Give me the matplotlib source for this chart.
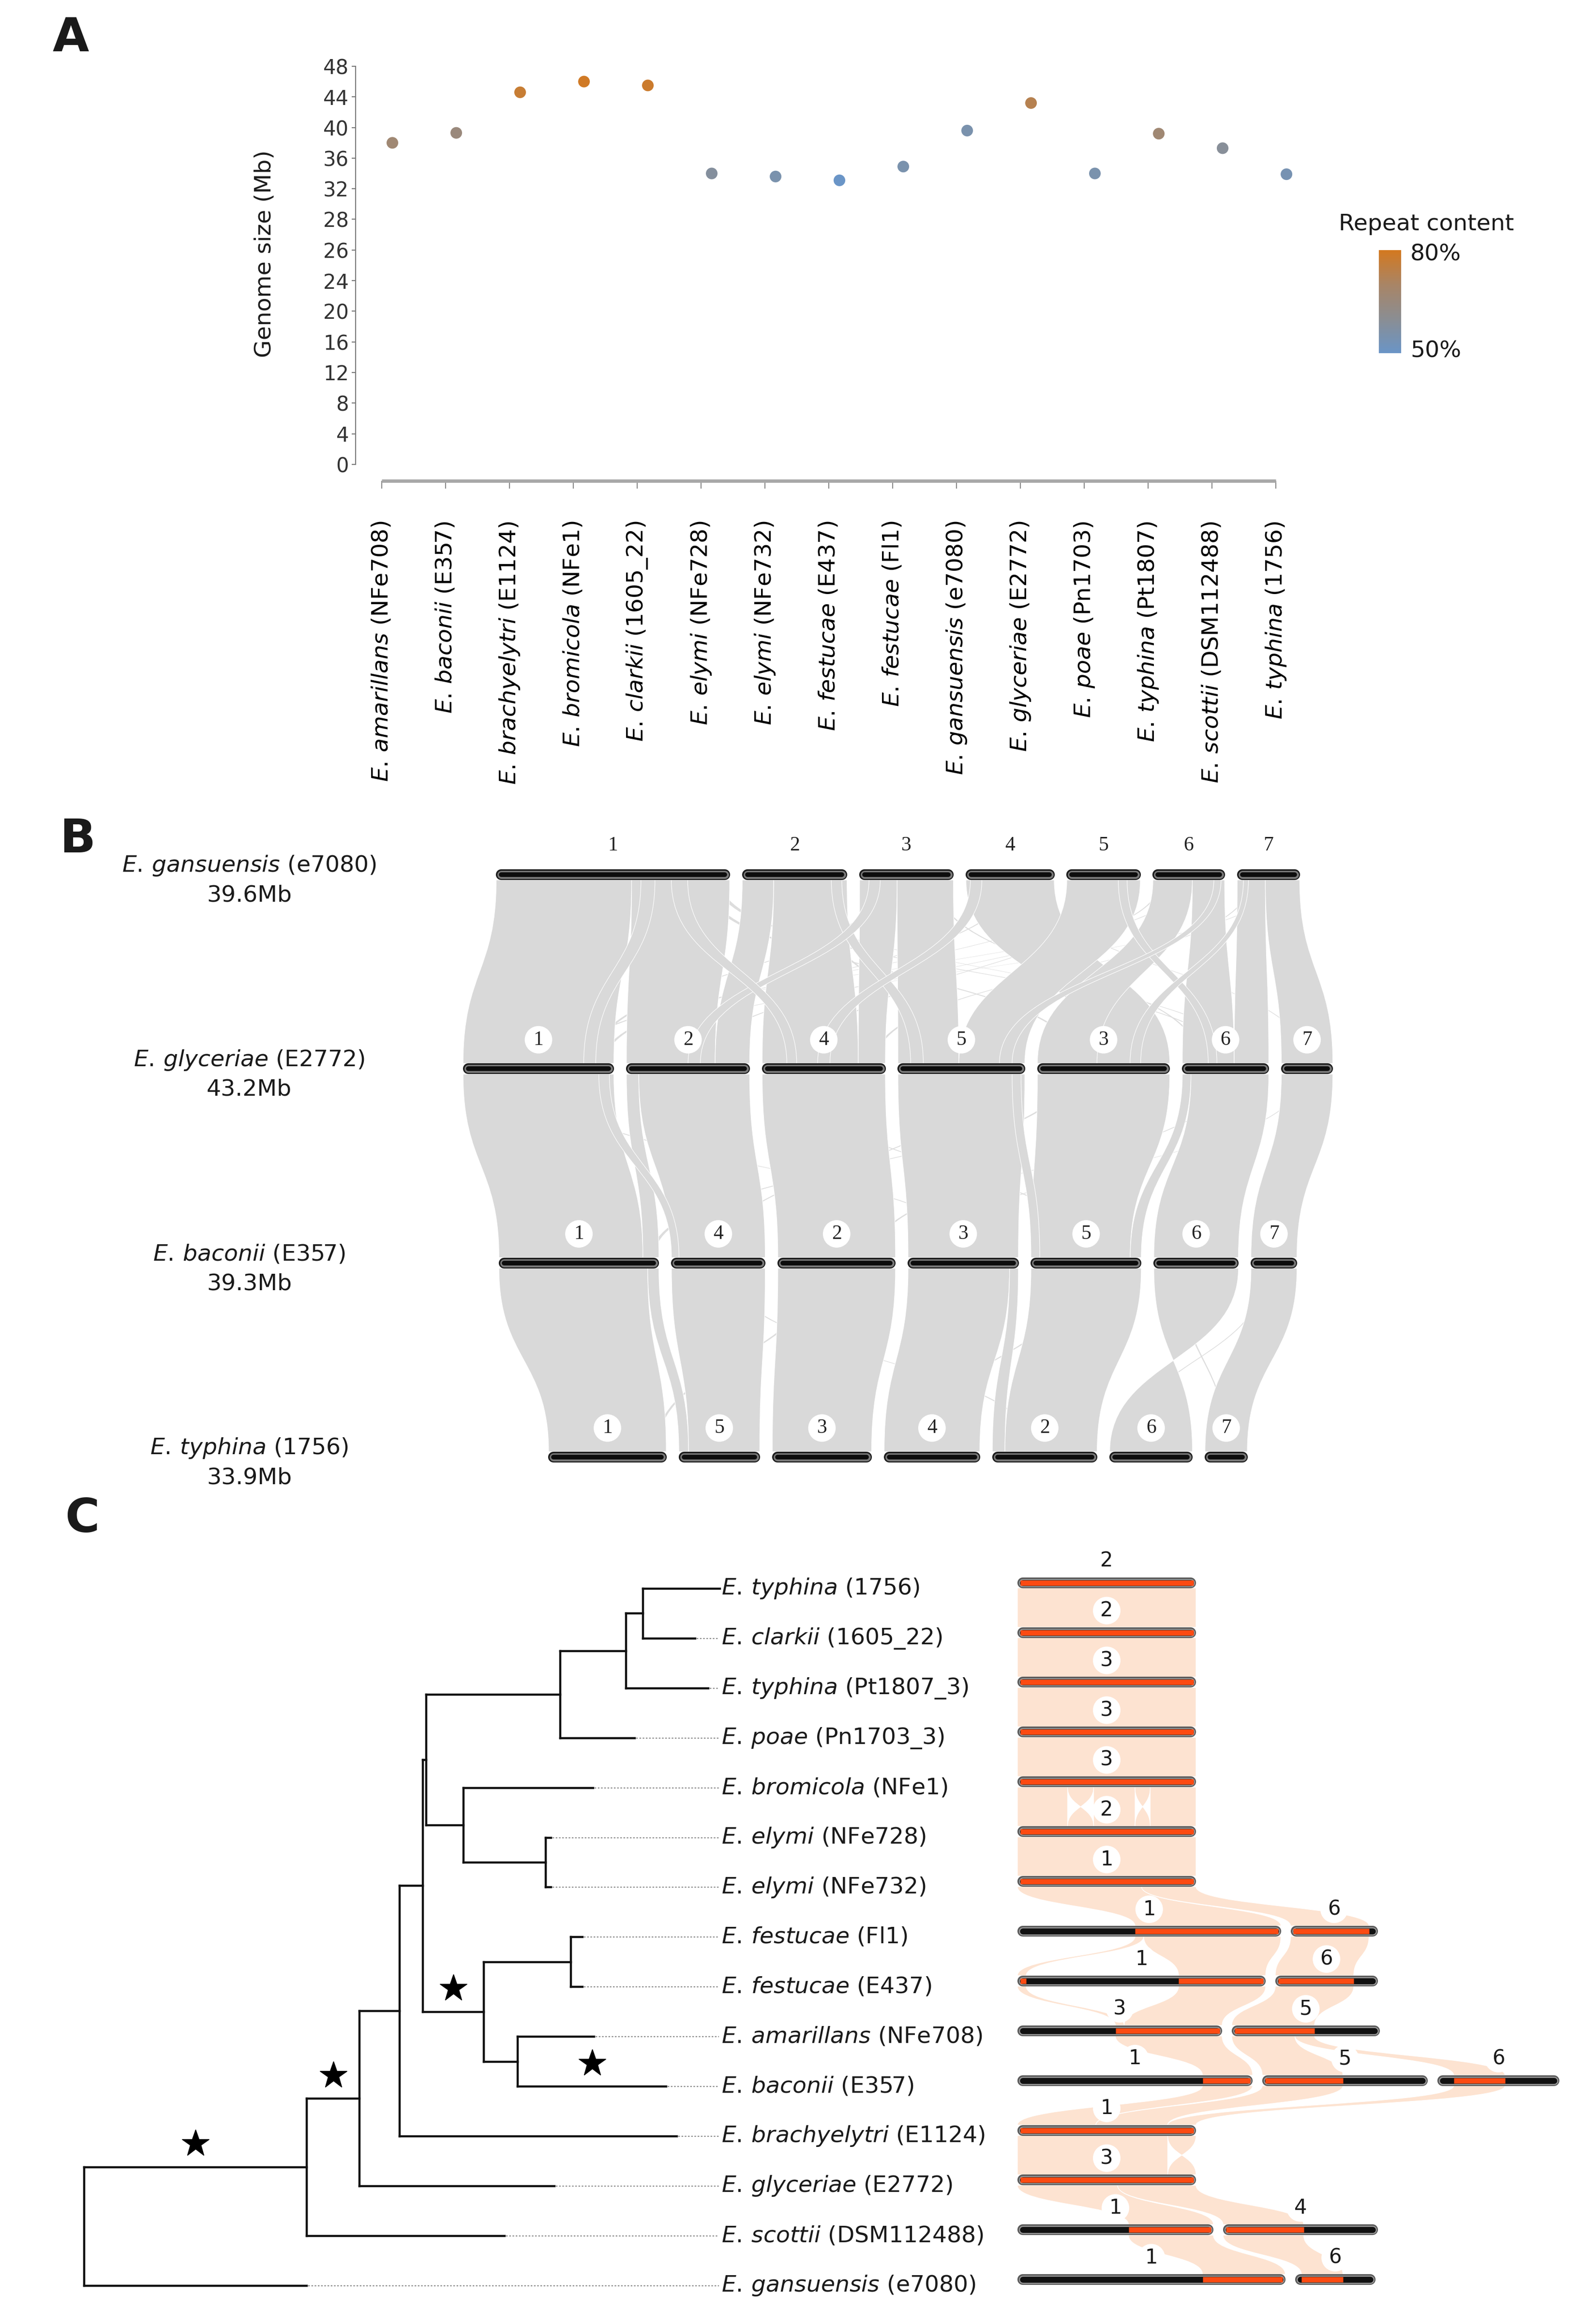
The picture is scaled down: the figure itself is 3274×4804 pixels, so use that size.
import numpy as np
import matplotlib.pyplot as plt
from matplotlib.path import Path
from matplotlib.patches import PathPatch
from matplotlib.colors import LinearSegmentedColormap
from matplotlib.transforms import blended_transform_factory

plt.rcParams['font.family'] = ['DejaVu Sans']
plt.rcParams['mathtext.fontset'] = 'custom'
plt.rcParams['mathtext.rm'] = 'DejaVu Sans'
plt.rcParams['mathtext.it'] = 'DejaVu Sans:italic'
plt.rcParams['text.color'] = '#1a1a1a'

# ---------------- panel A data ----------------
a_species = ['E. amarillans', 'E. baconii', 'E. brachyelytri', 'E. bromicola', 'E. clarkii',
             'E. elymi', 'E. elymi', 'E. festucae', 'E. festucae', 'E. gansuensis',
             'E. glyceriae', 'E. poae', 'E. typhina', 'E. scottii', 'E. typhina']
a_strains = ['NFe708', 'E357', 'E1124', 'NFe1', '1605_22', 'NFe728', 'NFe732', 'E437', 'Fl1',
             'e7080', 'E2772', 'Pn1703', 'Pt1807', 'DSM112488', '1756']
genome_size = [38.0, 39.3, 44.6, 46.0, 45.5, 34.0, 33.6, 33.1, 34.9, 39.6, 43.2, 34.0, 39.2, 37.3, 33.9]
repeat_content = [67, 65, 77, 79, 78, 58, 55, 50, 55, 55, 73, 55, 67, 59, 54]
ytick_labels = ['48', '44', '40', '36', '32', '28', '26', '24', '20', '16', '12', '8', '4', '0']

# ---------------- panel B data ----------------
b_species = ['E. gansuensis', 'E. glyceriae', 'E. baconii', 'E. typhina']
b_strains = ['e7080', 'E2772', 'E357', '1756']
b_genome = [39.6, 43.2, 39.3, 33.9]
b_chrom_names = [['1', '2', '3', '4', '5', '6', '7'],
                 ['1', '2', '4', '5', '3', '6', '7'],
                 ['1', '4', '2', '3', '5', '6', '7'],
                 ['1', '5', '3', '4', '2', '6', '7']]
b_chrom_len = [[12.7, 5.7, 5.1, 4.8, 4.0, 3.9, 3.4],
               [8.2, 6.7, 6.7, 6.9, 7.2, 4.7, 2.8],
               [8.7, 5.1, 6.4, 6.0, 6.0, 4.6, 2.5],
               [6.4, 4.4, 5.4, 5.2, 5.7, 4.5, 2.3]]
# synteny blocks (chrom above, from, to, chrom below, from, to) as fractions of chromosome length
b_links = [
    [('1', 0.00, 0.58, '1', 0.00, 1.00), ('1', 0.58, 1.00, '2', 0.00, 0.72),
     ('2', 0.00, 0.30, '2', 0.72, 1.00), ('2', 0.30, 1.00, '4', 0.00, 0.78),
     ('3', 0.00, 0.40, '4', 0.78, 1.00), ('3', 0.40, 1.00, '5', 0.00, 0.48),
     ('4', 0.00, 1.00, '3', 0.45, 1.00), ('5', 0.00, 1.00, '5', 0.48, 1.00),
     ('6', 0.00, 0.55, '3', 0.00, 0.45), ('6', 0.55, 1.00, '6', 0.00, 0.60),
     ('7', 0.00, 0.45, '6', 0.60, 1.00), ('7', 0.45, 1.00, '7', 0.00, 1.00),
     ('2', 0.85, 0.95, '5', 0.10, 0.20), ('3', 0.10, 0.22, '2', 0.50, 0.60),
     ('4', 0.05, 0.18, '4', 0.45, 0.55), ('5', 0.70, 0.82, '6', 0.30, 0.40),
     ('6', 0.85, 0.95, '5', 0.80, 0.90), ('1', 0.75, 0.82, '4', 0.20, 0.28),
     ('1', 0.62, 0.68, '1', 0.80, 0.88), ('7', 0.10, 0.18, '3', 0.70, 0.78)],
    [('1', 0.00, 1.00, '1', 0.00, 0.90), ('2', 0.00, 0.10, '1', 0.90, 1.00),
     ('2', 0.10, 1.00, '4', 0.00, 1.00), ('4', 0.00, 1.00, '2', 0.00, 1.00),
     ('5', 0.00, 1.00, '3', 0.00, 1.00), ('3', 0.00, 1.00, '5', 0.00, 0.90),
     ('6', 0.00, 0.10, '5', 0.90, 1.00), ('6', 0.10, 1.00, '6', 0.00, 1.00),
     ('7', 0.00, 1.00, '7', 0.00, 1.00),
     ('1', 0.90, 0.97, '4', 0.00, 0.08), ('5', 0.90, 0.97, '5', 0.00, 0.08)],
    [('1', 0.00, 0.93, '1', 0.00, 1.00), ('1', 0.93, 1.00, '5', 0.00, 0.12),
     ('4', 0.00, 1.00, '5', 0.12, 1.00), ('2', 0.00, 1.00, '3', 0.00, 1.00),
     ('3', 0.00, 0.92, '4', 0.00, 1.00), ('3', 0.92, 1.00, '2', 0.00, 0.12),
     ('5', 0.00, 1.00, '2', 0.12, 1.00), ('6', 0.00, 1.00, '6', 1.00, 0.00),
     ('7', 0.00, 1.00, '7', 0.00, 1.00)],
]
b_thin_links = [
    [('1', 0.88, 0.90, '3', 0.30, 0.32), ('1', 0.94, 0.96, '6', 0.50, 0.52),
     ('2', 0.60, 0.62, '5', 0.20, 0.22), ('3', 0.20, 0.22, '1', 0.85, 0.87),
     ('4', 0.50, 0.52, '2', 0.30, 0.32), ('5', 0.30, 0.32, '1', 0.92, 0.94),
     ('5', 0.70, 0.72, '4', 0.40, 0.42), ('6', 0.10, 0.12, '2', 0.60, 0.62),
     ('7', 0.20, 0.22, '4', 0.90, 0.92), ('4', 0.85, 0.87, '7', 0.50, 0.52),
     ('3', 0.80, 0.82, '6', 0.20, 0.22), ('2', 0.20, 0.22, '6', 0.70, 0.72),
     ('6', 0.40, 0.42, '1', 0.70, 0.72), ('7', 0.60, 0.62, '2', 0.10, 0.12)],
    [('1', 0.50, 0.52, '3', 0.60, 0.62), ('4', 0.30, 0.32, '5', 0.50, 0.52),
     ('3', 0.20, 0.22, '1', 0.95, 0.97), ('5', 0.60, 0.62, '4', 0.50, 0.52),
     ('6', 0.50, 0.52, '2', 0.80, 0.82), ('7', 0.40, 0.42, '3', 0.30, 0.32)],
    [('2', 0.30, 0.32, '1', 0.90, 0.92), ('5', 0.40, 0.42, '4', 0.30, 0.32),
     ('6', 0.30, 0.32, '7', 0.50, 0.52), ('7', 0.30, 0.32, '6', 0.20, 0.22),
     ('4', 0.60, 0.62, '2', 0.40, 0.42)],
]

# ---------------- panel C data ----------------
c_species = ['E. typhina', 'E. clarkii', 'E. typhina', 'E. poae', 'E. bromicola', 'E. elymi',
             'E. elymi', 'E. festucae', 'E. festucae', 'E. amarillans', 'E. baconii',
             'E. brachyelytri', 'E. glyceriae', 'E. scottii', 'E. gansuensis']
c_strains = ['1756', '1605_22', 'Pt1807_3', 'Pn1703_3', 'NFe1', 'NFe728', 'NFe732', 'Fl1', 'E437',
             'NFe708', 'E357', 'E1124', 'E2772', 'DSM112488', 'e7080']
# node -> (parent, branch length)
tree_parent = {
    'N1': ('R', 4.60), 'e7080': ('R', 4.60),
    'N2': ('N1', 1.09), 'DSM112488': ('N1', 4.09),
    'N3': ('N2', 0.83), 'E2772': ('N2', 4.03),
    'N4': ('N3', 0.48), 'E1124': ('N3', 5.73),
    'N5': ('N4', 0.07), 'N9': ('N4', 1.26),
    'N6': ('N5', 2.77), 'N7': ('N5', 0.77),
    'N6a': ('N6', 1.36), 'Pn1703_3': ('N6', 1.54),
    'N6b': ('N6a', 0.35), 'Pt1807_3': ('N6a', 1.70),
    '1756': ('N6b', 1.59), '1605_22': ('N6b', 1.08),
    'NFe1': ('N7', 2.68), 'N8': ('N7', 1.70),
    'NFe728': ('N8', 0.11), 'NFe732': ('N8', 0.11),
    'N10': ('N9', 1.80), 'N11': ('N9', 0.70),
    'Fl1': ('N10', 0.24), 'E437': ('N10', 0.24),
    'NFe708': ('N11', 1.58), 'E357': ('N11', 3.07),
}
star_nodes = ['N1', 'N2', 'N9', 'E357']
c_chrom_names = [['2'], ['2'], ['3'], ['3'], ['3'], ['2'], ['1'], ['1', '6'], ['1', '6'],
                 ['3', '5'], ['1', '5', '6'], ['1'], ['3'], ['1', '4'], ['1', '6']]
c_chrom_len = [[8.2], [8.2], [8.2], [8.2], [8.2], [8.2], [8.2], [12.1, 4.0], [11.4, 4.7],
               [9.4, 6.8], [10.8, 7.6, 5.6], [8.2], [8.2], [9.0, 7.1], [12.3, 3.7]]
c_orange = [[[(0, 8.2)]], [[(0, 8.2)]], [[(0, 8.2)]], [[(0, 8.2)]], [[(0, 8.2)]], [[(0, 8.2)]],
            [[(0, 8.2)]],
            [[(5.4, 12.1)], [(0, 3.6)]],
            [[(0, 0.4), (7.4, 11.4)], [(0, 3.6)]],
            [[(4.5, 9.4)], [(0, 3.8)]],
            [[(8.5, 10.8)], [(0, 3.7)], [(0.75, 3.1)]],
            [[(0, 8.2)]], [[(0, 8.2)]],
            [[(5.1, 9.0)], [(0, 3.7)]],
            [[(8.5, 12.3)], [(0.3, 2.2)]]]
# (chrom index above, from, to, chrom index below, from, to) in Mb
c_links = [
    [(0, 0, 8.2, 0, 0, 8.2)], [(0, 0, 8.2, 0, 0, 8.2)], [(0, 0, 8.2, 0, 0, 8.2)],
    [(0, 0, 8.2, 0, 0, 8.2)],
    [(0, 0, 2.3, 0, 0, 2.3), (0, 2.3, 3.5, 0, 3.5, 2.3), (0, 3.5, 5.4, 0, 3.5, 5.4),
     (0, 5.4, 6.1, 0, 6.1, 5.4), (0, 6.1, 8.2, 0, 6.1, 8.2)],
    [(0, 0, 8.2, 0, 0, 8.2)],
    [(0, 0, 5.7, 0, 5.4, 12.1), (0, 5.7, 8.2, 1, 0, 3.6)],
    [(0, 5.4, 5.8, 0, 0, 0.4), (0, 5.8, 12.1, 0, 7.4, 11.4), (1, 0, 3.6, 1, 0, 3.6)],
    [(0, 0, 0.4, 0, 4.5, 4.9), (0, 7.4, 11.4, 0, 4.9, 9.4), (1, 0, 3.6, 1, 0, 3.8)],
    [(0, 4.5, 9.4, 0, 8.5, 10.8), (1, 0, 2.9, 1, 0, 3.7), (1, 2.9, 3.8, 2, 0.75, 3.1)],
    [(0, 8.5, 10.8, 0, 0, 3.6), (1, 0, 3.7, 0, 3.6, 6.9), (2, 0.75, 3.1, 0, 6.9, 8.2)],
    [(0, 0, 6.9, 0, 0, 6.9), (0, 6.9, 8.2, 0, 8.2, 6.9)],
    [(0, 0, 4.6, 0, 5.1, 9.0), (0, 4.6, 8.2, 1, 0, 3.7)],
    [(0, 5.1, 9.0, 0, 8.5, 12.3), (1, 0, 3.7, 1, 0.3, 2.2)],
]

W, H = 3274, 4804
fig = plt.figure(figsize=(W / 100, H / 100), dpi=100)


def px_axes(x0, y0, x1, y1):
    return fig.add_axes([x0 / W, 1 - y1 / H, (x1 - x0) / W, (y1 - y0) / H])


def sp(name, strain):
    # italic binomial, roman strain; \! trims the wide mathtext space after "E."
    return r'$\mathit{' + name.replace(' ', r'\!\ ') + '}$ (' + strain + ')'


def ribbon(ax, xa0, xa1, ya, xb0, xb1, yb, fc, ec='white', lw=0.8):
    ym = (ya + yb) / 2
    verts = [(xa0, ya), (xa0, ym), (xb0, ym), (xb0, yb), (xb1, yb),
             (xb1, ym), (xa1, ym), (xa1, ya), (xa0, ya)]
    codes = [Path.MOVETO, Path.CURVE4, Path.CURVE4, Path.CURVE4, Path.LINETO,
             Path.CURVE4, Path.CURVE4, Path.CURVE4, Path.CLOSEPOLY]
    ax.add_patch(PathPatch(Path(verts, codes), fc=fc, ec=ec, lw=lw, zorder=1))


# panel letters
for letter, (lx, ly) in zip('ABC', [(146, 79), (160, 1736), (170, 3140)]):
    fig.text(lx / W, 1 - ly / H, letter, fontsize=70, fontweight='bold', ha='center', va='center')

# ================= A: genome size =================
cmap = LinearSegmentedColormap.from_list('repeat', ['#6a95c7', '#8b8e93', '#a98566', '#d4791f'])
ax_a = px_axes(735, 137, 2700, 994)
xi = np.arange(len(a_species))
tick0_px, step_px = 789, 132
ax_a.set_xlim((735 - tick0_px) / step_px, (2700 - tick0_px) / step_px)
unit_px = 63.3 / 4
ybot = 48 - (994 - 137) / unit_px
ax_a.set_ylim(ybot, 48)
ax_a.scatter(xi + 0.167, genome_size, c=repeat_content, cmap=cmap, vmin=50, vmax=80,
             s=300, edgecolors='none', zorder=3, clip_on=False)
ax_a.set_yticks(48 - 4 * np.arange(len(ytick_labels)), ytick_labels)
ax_a.set_xticks(xi, [sp(n, s) for n, s in zip(a_species, a_strains)], rotation=90)
for side in ['top', 'right', 'bottom']:
    ax_a.spines[side].set_visible(False)
ax_a.spines['left'].set_color('#777777')
ax_a.spines['left'].set_linewidth(1.5)
ax_a.spines['left'].set_bounds(-4, 48)
ax_a.tick_params(axis='y', length=6, width=1.5, color='#777777', labelsize=30, pad=4, labelcolor='#333333')
ax_a.tick_params(axis='x', length=11.5, width=1.5, color='#888888', labelsize=34, pad=48)
ax_a.plot([xi[0], xi[-1]], [ybot, ybot], color='#a8a8a8', lw=5, clip_on=False, solid_capstyle='butt')
ax_a.set_facecolor('none')
fig.text(547 / W, 1 - 525 / H, 'Genome size (Mb)', rotation=90, ha='center', va='center', fontsize=34)

ax_cb = px_axes(2850, 517, 2896, 730)
ax_cb.imshow(np.linspace(80, 50, 256)[:, None], cmap=cmap, vmin=50, vmax=80, aspect='auto')
ax_cb.axis('off')
fig.text(2948 / W, 1 - 463 / H, 'Repeat content', ha='center', va='center', fontsize=34)
fig.text(2915 / W, 1 - 526 / H, '80%', ha='left', va='center', fontsize=34)
fig.text(2915 / W, 1 - 726 / H, '50%', ha='left', va='center', fontsize=34)

# ================= B: synteny =================
ax_b = px_axes(0, 1650, W, 3100)
b_cx, b_scale, b_row0, b_row_px = 1856, 38.0, 1808, 401.3
ax_b.set_xlim(-b_cx / b_scale, (W - b_cx) / b_scale)
ax_b.set_ylim((3100 - b_row0) / b_row_px, (1650 - b_row0) / b_row_px)
ax_b.axis('off')
gap_b = 26 / b_scale
b_starts = []
for lens in b_chrom_len:
    lens = np.array(lens)
    total = lens.sum() + gap_b * (len(lens) - 1)
    b_starts.append(-total / 2 + np.concatenate([[0], np.cumsum(lens[:-1] + gap_b)]))

hb = 11 / b_row_px
for r in range(len(b_links)):
    up, lo = b_chrom_names[r], b_chrom_names[r + 1]
    for group, fc, ec in [(b_thin_links[r], '#dddddd', 'none'), (b_links[r], '#d9d9d9', 'white')]:
        for ca, a0, a1, cb, b0, b1 in group:
            ia, ib = up.index(ca), lo.index(cb)
            la, lb = b_chrom_len[r][ia], b_chrom_len[r + 1][ib]
            ribbon(ax_b, b_starts[r][ia] + a0 * la, b_starts[r][ia] + a1 * la, r + hb,
                   b_starts[r + 1][ib] + b0 * lb, b_starts[r + 1][ib] + b1 * lb, r + 1 - hb, fc, ec)

rb = 10.4 / b_scale
tb = blended_transform_factory(ax_b.transAxes, ax_b.transData)
for r, (names, lens) in enumerate(zip(b_chrom_names, b_chrom_len)):
    for k, (nm, ln) in enumerate(zip(names, lens)):
        s = b_starts[r][k]
        for lw, col in [(16, '#1c1c1c'), (12, '#7a7a7a'), (7, '#0d0d0d')]:
            ax_b.plot([s + rb, s + ln - rb], [r, r], color=col, lw=lw, solid_capstyle='round', zorder=3)
        ax_b.text(s + ln / 2, r - 60 / b_row_px, nm, ha='center', va='center', fontsize=30,
                  family='Liberation Serif', color='#222222', zorder=4,
                  bbox=dict(boxstyle='circle,pad=0.22', fc='white', ec='none') if r > 0 else None)
    ax_b.text(515 / W, r - 18 / b_row_px, sp(b_species[r], b_strains[r]), transform=tb,
              ha='center', va='center', fontsize=34)
    ax_b.text(515 / W, r + 43 / b_row_px, f'{b_genome[r]}Mb', transform=tb,
              ha='center', va='center', fontsize=34)

# ================= C: tree + chromosome painting =================
c_row0, c_row_px = 3284, 102.9
ax_t = px_axes(0, 3050, W, H)
ax_k = px_axes(0, 3050, W, H)
for ax in (ax_t, ax_k):
    ax.set_ylim((H - c_row0) / c_row_px, (3050 - c_row0) / c_row_px)
    ax.axis('off')
    ax.set_facecolor('none')
t_root_px, t_scale = 174, 100
ax_t.set_xlim(-t_root_px / t_scale, (W - t_root_px) / t_scale)

children = {}
for node, (par, bl) in tree_parent.items():
    children.setdefault(par, []).append(node)
xpos = {'R': 0.0}
ypos = {}


def set_x(n):
    for c in children.get(n, []):
        xpos[c] = xpos[n] + tree_parent[c][1]
        set_x(c)


def set_y(n):
    if n not in children:
        ypos[n] = c_strains.index(n)
    else:
        ypos[n] = np.mean([set_y(c) for c in children[n]])
    return ypos[n]


set_x('R')
set_y('R')
for n, (par, bl) in tree_parent.items():
    ax_t.plot([xpos[par], xpos[n]], [ypos[n], ypos[n]], color='#111111', lw=3.2,
              solid_capstyle='projecting', zorder=3)
for n, ch in children.items():
    ys = [ypos[c] for c in ch]
    ax_t.plot([xpos[n], xpos[n]], [min(ys), max(ys)], color='#111111', lw=3.2,
              solid_capstyle='projecting', zorder=3)

leader_end = (1486 - t_root_px) / t_scale
label_x = (1491 - t_root_px) / t_scale
for i, strain in enumerate(c_strains):
    if xpos[strain] < leader_end:
        ax_t.plot([xpos[strain] + 0.03, leader_end], [i, i], color='#8c8c8c', lw=1.6,
                  linestyle=(0, (1.5, 1.5)), zorder=2)
    ax_t.text(label_x, i, sp(c_species[i], strain), ha='left', va='center', fontsize=34)
for n in star_nodes:
    par = tree_parent[n][0]
    ax_t.plot((xpos[par] + xpos[n]) / 2, ypos[n] - 0.47, marker='*', ms=42, color='black',
              mec='black', zorder=4)

k_x0, k_scale = 2103, 45
ax_k.set_xlim(-k_x0 / k_scale, (W - k_x0) / k_scale)
gap_c = 20 / k_scale
c_starts = [np.concatenate([[0], np.cumsum(np.array(l[:-1]) + gap_c)]) for l in c_chrom_len]
bar_dy = -0.12
hc = 11 / c_row_px
for r, links in enumerate(c_links):
    for ka, a0, a1, kb, b0, b1 in links:
        ribbon(ax_k, c_starts[r][ka] + a0, c_starts[r][ka] + a1, r + bar_dy + hc,
               c_starts[r + 1][kb] + b0, c_starts[r + 1][kb] + b1, r + 1 + bar_dy - hc,
               '#fde3d1', 'white', 0.8)

rc = 11 / k_scale
for r in range(len(c_chrom_len)):
    y = r + bar_dy
    for k, (nm, ln) in enumerate(zip(c_chrom_names[r], c_chrom_len[r])):
        s = c_starts[r][k]
        for lw, col in [(16, '#5a5a5a'), (12, '#a0a0a0'), (9, '#111111')]:
            ax_k.plot([s + rc, s + ln - rc], [y, y], color=col, lw=lw, solid_capstyle='round', zorder=3)
        for o0, o1 in c_orange[r][k]:
            x0 = max(s + o0, s + rc * 0.5)
            x1 = min(s + o1, s + ln - rc * 0.5)
            ax_k.plot([x0, x1], [y, y], color='#fc4a12', lw=8, solid_capstyle='butt', zorder=4)
        ax_k.text(s + ln / 2, y - 0.44, nm, ha='center', va='center', fontsize=30, zorder=5,
                  bbox=dict(boxstyle='circle,pad=0.18', fc='white', ec='none'))

fig.savefig('out.png', dpi=100)
